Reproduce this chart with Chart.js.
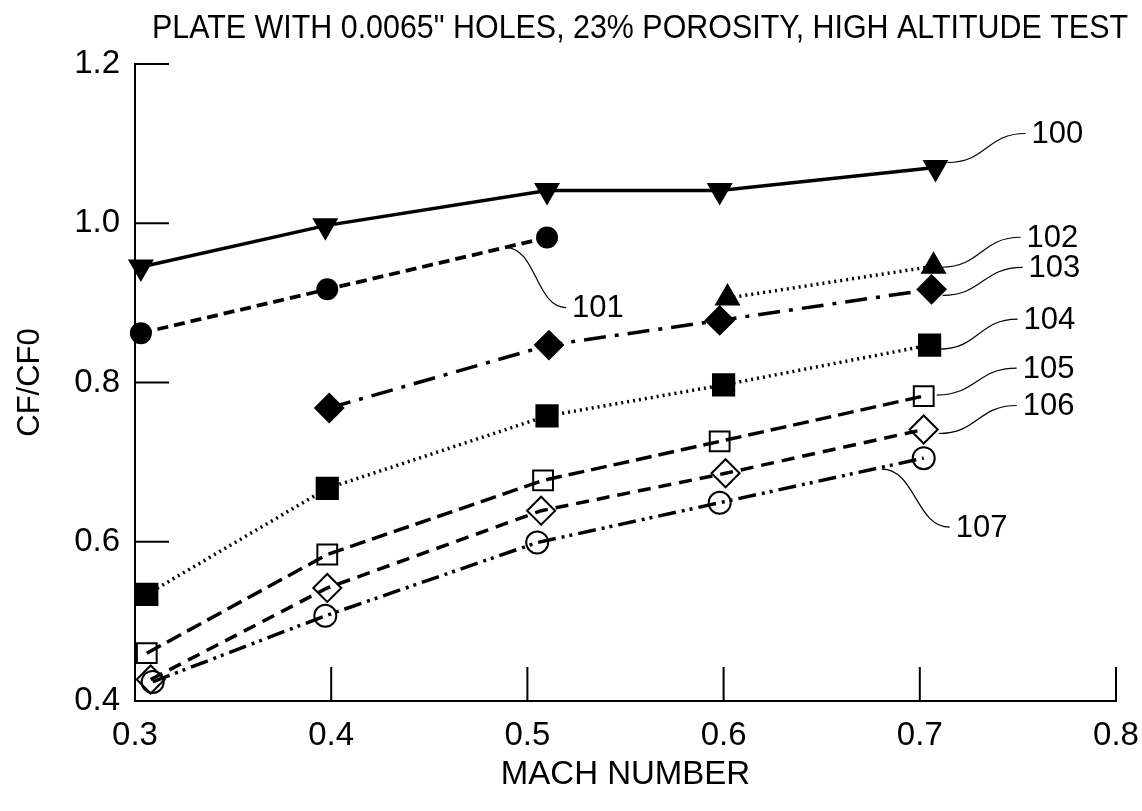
<!DOCTYPE html>
<html>
<head>
<meta charset="utf-8">
<script src="https://cdn.jsdelivr.net/npm/chart.js@4.4.1/dist/chart.umd.min.js"></script>
<style>
  html, body { margin: 0; padding: 0; background: #fff; }
  #wrap { width: 1142px; height: 811px; }
</style>
</head>
<body>
<div id="wrap"><canvas id="cfChart" width="1142" height="811"></canvas></div>
<script>
// Titles
const chartTitle = 'PLATE WITH 0.0065" HOLES, 23% POROSITY, HIGH ALTITUDE TEST';
const xTitle = 'MACH NUMBER';
const yTitle = 'CF/CF0';

// Tick labels
const xTicks = [0.3, 0.4, 0.5, 0.6, 0.7, 0.8];
const yTicks = [0.4, 0.6, 0.8, 1.0, 1.2];

// Run numbers (curve labels)
const runNames = ['100', '101', '102', '103', '104', '105', '106', '107'];

// Mach number / CF/CF0 for each run
const mach100 = [0.303, 0.397, 0.510, 0.598, 0.708];
const cf100   = [0.945, 0.997, 1.041, 1.041, 1.070];
const mach101 = [0.303, 0.398, 0.510];
const cf101   = [0.862, 0.917, 0.982];
const mach102 = [0.602, 0.707];
const cf102   = [0.906, 0.946];
const mach103 = [0.399, 0.511, 0.598, 0.706];
const cf103   = [0.768, 0.847, 0.878, 0.917];
const mach104 = [0.306, 0.398, 0.510, 0.600, 0.705];
const cf104   = [0.534, 0.667, 0.758, 0.797, 0.847];
const mach105 = [0.306, 0.398, 0.508, 0.598, 0.702];
const cf105   = [0.460, 0.584, 0.677, 0.726, 0.783];
const mach106 = [0.308, 0.398, 0.507, 0.601, 0.702];
const cf106   = [0.427, 0.542, 0.639, 0.686, 0.741];
const mach107 = [0.309, 0.397, 0.505, 0.598, 0.702];
const cf107   = [0.424, 0.507, 0.599, 0.649, 0.705];

const machRuns = [mach100, mach101, mach102, mach103, mach104, mach105, mach106, mach107];
const cfRuns   = [cf100, cf101, cf102, cf103, cf104, cf105, cf106, cf107];

// Line / marker style for each run
const runStyles = [
  { point: 'triangle', rot: 180, fill: true,  r: 13, dash: [],                    w: 3.5 },
  { point: 'circle',   rot: 0,   fill: true,  r: 10, dash: [11, 6],               w: 3.8 },
  { point: 'triangle', rot: 0,   fill: true,  r: 13, dash: [2, 4],                w: 3.5 },
  { point: 'rectRot',  rot: 0,   fill: true,  r: 14, dash: [22, 9, 4, 9],         w: 3.5 },
  { point: 'rect',     rot: 0,   fill: true,  r: 15, dash: [2, 4],                w: 3.5 },
  { point: 'rect',     rot: 0,   fill: false, r: 14, dash: [16, 7],               w: 3.5 },
  { point: 'rectRot',  rot: 0,   fill: false, r: 14, dash: [13, 8],               w: 3.5 },
  { point: 'circle',   rot: 0,   fill: false, r: 11, dash: [18, 6, 3, 5, 3, 6],   w: 3.5 }
];

// Curve labels: which point the leader hangs from, leader start/end offsets in px
const leaders = [
  { run: 0, pt: 4, sx: 12,  sy: -5, ex: 90, ey: -34 },
  { run: 1, pt: 2, sx: -41, sy: 10, ex: 19, ey: 70 },
  { run: 2, pt: 1, sx: 8,   sy: 1,  ex: 87, ey: -29 },
  { run: 3, pt: 3, sx: 11,  sy: 6,  ex: 91, ey: -22 },
  { run: 4, pt: 4, sx: 10,  sy: 4,  ex: 88, ey: -26 },
  { run: 5, pt: 4, sx: 13,  sy: -1, ex: 93, ey: -28 },
  { run: 6, pt: 4, sx: 15,  sy: 4,  ex: 93, ey: -24 },
  { run: 7, pt: 4, sx: -42, sy: 11, ex: 26, ey: 69 }
];

const FONT = "'Liberation Sans', Arial, Helvetica, sans-serif";

const datasets = runNames.map(function (name, i) {
  const s = runStyles[i];
  return {
    label: name,
    data: machRuns[i].map(function (m, j) { return { x: m, y: cfRuns[i][j] }; }),
    borderColor: '#000',
    borderWidth: s.w,
    borderDash: s.dash,
    pointStyle: s.point,
    rotation: s.rot,
    pointRadius: s.r,
    pointHoverRadius: s.r,
    pointBorderWidth: 2,
    pointBorderColor: '#000',
    pointBackgroundColor: s.fill ? '#000' : 'rgba(0,0,0,0)',
    fill: false,
    tension: 0,
    clip: false
  };
});

// Inward tick marks on both axes
const inwardTicks = {
  id: 'inwardTicks',
  afterDraw(chart) {
    const ctx = chart.ctx;
    const xs = chart.scales.x, ys = chart.scales.y;
    const len = 34;
    ctx.save();
    ctx.strokeStyle = '#000';
    ctx.lineWidth = 2;
    ctx.beginPath();
    yTicks.forEach(function (v) {
      const py = ys.getPixelForValue(v);
      ctx.moveTo(xs.left, py);
      ctx.lineTo(xs.left + len, py);
    });
    xTicks.forEach(function (v) {
      const px = xs.getPixelForValue(v);
      ctx.moveTo(px, ys.bottom);
      ctx.lineTo(px, ys.bottom - len);
    });
    ctx.stroke();
    ctx.restore();
  }
};

// Curve labels with S-shaped leader lines
const curveLabels = {
  id: 'curveLabels',
  afterDatasetsDraw(chart) {
    const ctx = chart.ctx;
    ctx.save();
    ctx.strokeStyle = '#000';
    ctx.lineWidth = 1.2;
    ctx.fillStyle = '#000';
    ctx.font = '31px ' + FONT;
    ctx.textAlign = 'left';
    ctx.textBaseline = 'middle';
    leaders.forEach(function (l) {
      const el = chart.getDatasetMeta(l.run).data[l.pt];
      const x0 = el.x + l.sx, y0 = el.y + l.sy;
      const x1 = el.x + l.ex, y1 = el.y + l.ey;
      const mx = (x0 + x1) / 2;
      ctx.beginPath();
      ctx.moveTo(x0, y0);
      ctx.bezierCurveTo(mx, y0, mx, y1, x1, y1);
      ctx.stroke();
      ctx.fillText(runNames[l.run], x1 + 6, y1 + 1);
    });
    ctx.restore();
  }
};

// Title across the top (condensed face: squeeze to the printed width)
const topTitle = {
  id: 'topTitle',
  afterDraw(chart) {
    const ctx = chart.ctx;
    ctx.save();
    ctx.fillStyle = '#000';
    ctx.font = '33px ' + FONT;
    ctx.textAlign = 'center';
    ctx.textBaseline = 'middle';
    const w = ctx.measureText(chartTitle).width;
    const sx = 976 / w;
    ctx.translate(640, 29);
    ctx.scale(sx, 1);
    ctx.fillText(chartTitle, 0, 0);
    ctx.restore();
  }
};

new Chart(document.getElementById('cfChart'), {
  type: 'line',
  data: { datasets: datasets },
  options: {
    responsive: false,
    animation: false,
    events: [],
    layout: { padding: { top: 64, right: 26, bottom: 0, left: 0 } },
    plugins: {
      legend: { display: false },
      title: { display: false },
      tooltip: { enabled: false }
    },
    scales: {
      x: {
        type: 'linear',
        min: 0.3,
        max: 0.8,
        afterBuildTicks: function (scale) { scale.ticks = xTicks.map(function (v) { return { value: v }; }); },
        afterFit: function (scale) {
          scale.height = 110;
          scale.paddingLeft = 0;
          scale.paddingRight = 0;
        },
        grid: { display: false, drawTicks: false },
        border: { display: true, color: '#000', width: 2 },
        ticks: {
          color: '#000',
          padding: 15,
          maxRotation: 0,
          font: { family: FONT, size: 33 },
          callback: function (v) { return Number(v).toFixed(1); }
        },
        title: {
          display: true,
          text: xTitle,
          color: '#000',
          font: { family: FONT, size: 33 },
          padding: { top: 0, bottom: 16 }
        }
      },
      y: {
        type: 'linear',
        min: 0.4,
        max: 1.2,
        afterBuildTicks: function (scale) { scale.ticks = yTicks.map(function (v) { return { value: v }; }); },
        afterFit: function (scale) {
          scale.width = 135;
          scale.paddingTop = 0;
          scale.paddingBottom = 0;
        },
        grid: { display: false, drawTicks: false },
        border: { display: true, color: '#000', width: 2 },
        ticks: {
          color: '#000',
          padding: 15,
          font: { family: FONT, size: 33 },
          callback: function (v) { return Number(v).toFixed(1); }
        },
        title: {
          display: true,
          text: yTitle,
          color: '#000',
          font: { family: FONT, size: 31 },
          padding: { top: 12, bottom: 0 }
        }
      }
    }
  },
  plugins: [inwardTicks, curveLabels, topTitle]
});
</script>
</body>
</html>
